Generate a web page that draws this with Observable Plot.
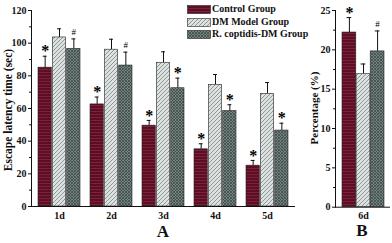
<!DOCTYPE html>
<html><head><meta charset="utf-8">
<script src="https://cdn.jsdelivr.net/npm/d3@7"></script>
<script src="https://cdn.jsdelivr.net/npm/@observablehq/plot@0.6"></script>
<style>
body{margin:0;background:#fff;font-family:"Liberation Serif",serif;font-weight:bold;color:#111}
#wrap{position:relative;width:392px;height:243px;overflow:hidden}
.abs{position:absolute}
.leg{position:absolute;left:187px;font-size:10px;line-height:10px;white-space:nowrap}
.leg svg{vertical-align:middle;margin-right:1px}
</style></head><body>
<svg width="0" height="0" style="position:absolute">
<defs>
<pattern id="pC" width="3" height="3" patternUnits="userSpaceOnUse"><rect width="3" height="3" fill="#5e0e24"/><rect width="3" height="1" fill="#7a2238"/></pattern>
<pattern id="pD" width="4" height="4" patternUnits="userSpaceOnUse"><rect width="4" height="4" fill="#dde2e0"/><path d="M0,4L4,0M-1,1L1,-1M3,5L5,3" stroke="#8e9896" stroke-width="1"/></pattern>
<pattern id="pR" width="3" height="3" patternUnits="userSpaceOnUse"><rect width="3" height="3" fill="#73827f"/><path d="M0,0L3,3M3,0L0,3" stroke="#3f4c4a" stroke-width="0.8"/></pattern>
</defs></svg>
<div id="wrap"></div>
<script>
const days = ["1d","2d","3d","4d","5d"];
const groups = ["Control Group","DM Model Group","R. coptidis-DM Group"];
const control = [85, 62.5, 49.5, 35, 25];
const controlSd = [7, 4.5, 3.2, 3.4, 3.2];
const controlSig = ["*","*","*","*","*"];
const dm = [103.5, 96, 88, 74.5, 69];
const dmSd = [5.3, 6.4, 6.7, 6.3, 6.9];
const dmSig = ["","","","",""];
const rc = [96.5, 86.3, 72.4, 58.4, 46.5];
const rcSd = [6.1, 8.2, 6.2, 3.9, 4.5];
const rcSig = ["#","#","*","*","*"];
const pctDay = ["6d"];
const pctControl = [22.2], pctControlSd = [1.9], pctControlSig = ["*"];
const pctDm = [16.9], pctDmSd = [1.3], pctDmSig = [""];
const pctRc = [19.8], pctRcSd = [2.6], pctRcSig = ["#"];
const yTicksA = [0,20,40,60,80,100,120], yMinorA = [10,30,50,70,90,110];
const yTicksB = [0,5,10,15,20,25], yMinorB = [2.5,7.5,12.5,17.5,22.5];

const fills = ["url(#pC)","url(#pD)","url(#pR)"];
const wrap = document.getElementById("wrap");

function panel({width, mL, mR, mT, mB, xDomain, pi, po, yDomain, ticks, minor, series}) {
  const step = (width - mL - mR) / (xDomain.length - pi + 2 * po);
  const bw = step * (1 - pi), third = bw / 3;
  const marks = [];
  series.forEach((s, k) => {
    const rows = xDomain.map((day, i) => ({day, v: s.v[i], top: s.v[i] + s.sd[i], sig: s.sig[i]}));
    const dx = (k - 1) * third;
    const inL = k * third, inR = (2 - k) * third;
    marks.push(Plot.ruleX(rows, {x: "day", y1: "v", y2: "top", dx, stroke: "#111", strokeWidth: 1}));
    marks.push(Plot.tickY(rows, {x: "day", y: "top", insetLeft: inL + third / 2 - 2.5, insetRight: inR + third / 2 - 2.5, stroke: "#111", strokeWidth: 1}));
    marks.push(Plot.barY(rows, {x: "day", y: "v", insetLeft: inL, insetRight: inR, fill: fills[k], stroke: "#222", strokeWidth: 0.6}));
    const star = rows.filter(d => d.sig === "*"), hash = rows.filter(d => d.sig === "#");
    marks.push(Plot.text(star, {x: "day", y: "top", text: "sig", dx, dy: -5, fontSize: 16, fontWeight: "bold", fill: "#000"}));
    marks.push(Plot.text(hash, {x: "day", y: "top", text: "sig", dx, dy: -7, fontSize: 9, fontWeight: "normal", fill: "#000"}));
  });
  marks.push(Plot.axisY({ticks, tickSize: 3, tickPadding: 2, fontSize: 10, label: null}));
  marks.push(Plot.axisY({ticks: minor, tickSize: 2, tickFormat: () => "", label: null}));
  marks.push(Plot.axisX({tickSize: 0, tickPadding: 5, fontSize: 10, label: null}));
  marks.push(Plot.ruleY([yDomain[0]], {stroke: "#111", strokeWidth: 1}));
  marks.push(Plot.frame({anchor: "left", stroke: "#111", strokeWidth: 1}));
  return Plot.plot({
    width, height: 243, marginLeft: mL, marginRight: mR, marginTop: mT, marginBottom: mB,
    style: {fontFamily: "Liberation Serif", fontWeight: "bold", fontSize: "10px", color: "#111", background: "transparent", overflow: "visible"},
    x: {domain: xDomain, paddingInner: pi, paddingOuter: po, label: null},
    y: {domain: yDomain, label: null},
    marks
  });
}

const left = panel({width: 300, mL: 31, mR: 5, mT: 10, mB: 37, xDomain: days, pi: 0.185, po: 0.09,
  yDomain: [0,120], ticks: yTicksA, minor: yMinorA,
  series: [{v: control, sd: controlSd, sig: controlSig}, {v: dm, sd: dmSd, sig: dmSig}, {v: rc, sd: rcSd, sig: rcSig}]});
left.classList.add("abs"); left.style.left = "0px"; left.style.top = "0px";
wrap.appendChild(left);

const right = panel({width: 92, mL: 35, mR: 2, mT: 10, mB: 36.3, xDomain: pctDay, pi: 0, po: 0.15,
  yDomain: [0,25], ticks: yTicksB, minor: yMinorB,
  series: [{v: pctControl, sd: pctControlSd, sig: pctControlSig}, {v: pctDm, sd: pctDmSd, sig: pctDmSig}, {v: pctRc, sd: pctRcSd, sig: pctRcSig}]});
right.classList.add("abs"); right.style.left = "300px"; right.style.top = "0px";
wrap.appendChild(right);

// legend
groups.forEach((g, k) => {
  const d = document.createElement("div");
  d.className = "leg";
  d.style.top = (4 + k * 12.6) + "px";
  d.innerHTML = `<svg width="24" height="9"><rect x="0.5" y="0.5" width="23" height="8" fill="${fills[k]}" stroke="#222" stroke-width="0.6"/></svg>${g}`;
  wrap.appendChild(d);
});

function label(text, x, y, size, rot) {
  const d = document.createElement("div");
  d.className = "abs";
  d.textContent = text;
  d.style.fontSize = size + "px";
  d.style.whiteSpace = "nowrap";
  d.style.left = x + "px"; d.style.top = y + "px";
  d.style.transform = "translate(-50%,-50%)" + (rot ? " rotate(-90deg)" : "");
  wrap.appendChild(d);
}
label("Escape latency time (sec)", 8, 110, 11.5, true);
label("Percentage (%)", 314, 108, 11, true);
label("A", 163, 232, 17, false);
label("B", 362, 231, 17, false);
</script></body></html>
